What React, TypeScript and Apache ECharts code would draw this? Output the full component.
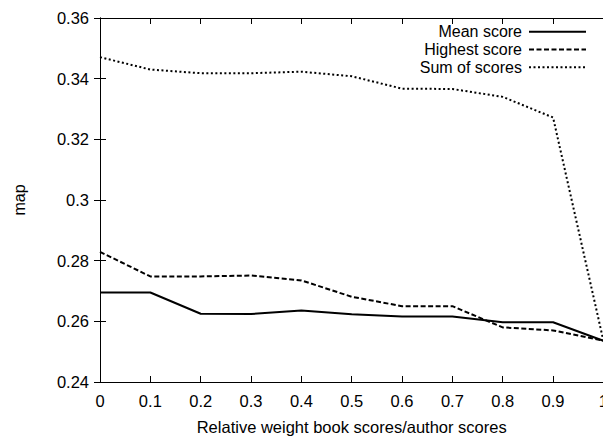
import React, { useEffect, useRef } from "react";
import * as echarts from "echarts";

const xValues = [0, 0.1, 0.2, 0.3, 0.4, 0.5, 0.6, 0.7, 0.8, 0.9, 1];
const meanScore = [0.2695, 0.2695, 0.2625, 0.2624, 0.2636, 0.2623, 0.2616, 0.2616, 0.2597, 0.2597, 0.2536];
const highestScore = [0.2829, 0.2748, 0.2748, 0.2751, 0.2735, 0.2681, 0.265, 0.265, 0.258, 0.257, 0.2536];
const sumOfScores = [0.3471, 0.343, 0.3418, 0.3418, 0.3423, 0.3408, 0.3367, 0.3366, 0.334, 0.3272, 0.2536];
const seriesNames = ["Mean score", "Highest score", "Sum of scores"];

const FONT = "Liberation Sans, Arial, Helvetica, sans-serif";
const dashes: (number[] | null)[] = [null, [5, 2.5], [2, 2.5]];

export default function App() {
  const ref = useRef<HTMLDivElement>(null);
  useEffect(() => {
    if (!ref.current) return;
    const chart = echarts.init(ref.current, undefined, { renderer: "svg" });
    const pair = (ys: number[]) => xValues.map((x, i) => [x, ys[i]]);
    const hiddenAxisCommon = {
      axisLine: { show: true, lineStyle: { color: "#000", width: 1 } },
      axisTick: { show: true, inside: true, length: 6, lineStyle: { color: "#000" } },
      axisLabel: { show: false },
      splitLine: { show: false },
    };
    const legendRowsY = [31.7, 49.5, 67.3];
    const legendGraphics: any[] = [];
    seriesNames.forEach((name, i) => {
      legendGraphics.push({
        type: "text",
        x: 522,
        y: legendRowsY[i],
        style: {
          text: name,
          fill: "#000",
          font: `16px ${FONT}`,
          textAlign: "right",
          textVerticalAlign: "middle",
        },
      });
      legendGraphics.push({
        type: "line",
        shape: { x1: 529, y1: legendRowsY[i], x2: 586, y2: legendRowsY[i] },
        style: {
          stroke: "#000",
          lineWidth: 2,
          lineDash: dashes[i] || undefined,
        },
      });
    });
    const lineSeries = [meanScore, highestScore, sumOfScores].map((ys, i) => ({
      name: seriesNames[i],
      type: "line",
      data: pair(ys),
      symbol: "none",
      lineStyle: { color: "#000", width: 2, type: dashes[i] || "solid" },
      itemStyle: { color: "#000" },
    }));
    chart.setOption({
      animation: false,
      backgroundColor: "#fff",
      textStyle: { fontFamily: FONT },
      grid: { left: 100, right: 4, top: 18, bottom: 51, containLabel: false },
      graphic: legendGraphics,
      xAxis: [
        {
          type: "value",
          min: 0,
          max: 1,
          interval: 0.1,
          name: "Relative weight book scores/author scores",
          nameLocation: "middle",
          nameGap: 36,
          nameTextStyle: { fontFamily: FONT, fontSize: 16.5, color: "#000" },
          axisLine: { show: true, lineStyle: { color: "#000", width: 1 } },
          axisTick: { show: true, inside: true, length: 6, lineStyle: { color: "#000" } },
          axisLabel: { color: "#000", fontSize: 16.5, fontFamily: FONT, margin: 10 },
          splitLine: { show: false },
        },
        { type: "value", min: 0, max: 1, interval: 0.1, position: "top", ...hiddenAxisCommon },
      ],
      yAxis: [
        {
          type: "value",
          min: 0.24,
          max: 0.36,
          interval: 0.02,
          name: "map",
          nameLocation: "middle",
          nameGap: 73,
          nameTextStyle: { fontFamily: FONT, fontSize: 16, color: "#000" },
          axisLine: { show: true, lineStyle: { color: "#000", width: 1 } },
          axisTick: { show: true, inside: true, length: 6, lineStyle: { color: "#000" } },
          axisLabel: { color: "#000", fontSize: 16.5, fontFamily: FONT, margin: 11 },
          splitLine: { show: false },
        },
        { type: "value", min: 0.24, max: 0.36, interval: 0.02, position: "right", ...hiddenAxisCommon },
      ],
      series: lineSeries,
    });
    return () => chart.dispose();
  }, []);
  return <div ref={ref} style={{ width: 611, height: 440, marginLeft: -8, marginTop: -8 }} />;
}
